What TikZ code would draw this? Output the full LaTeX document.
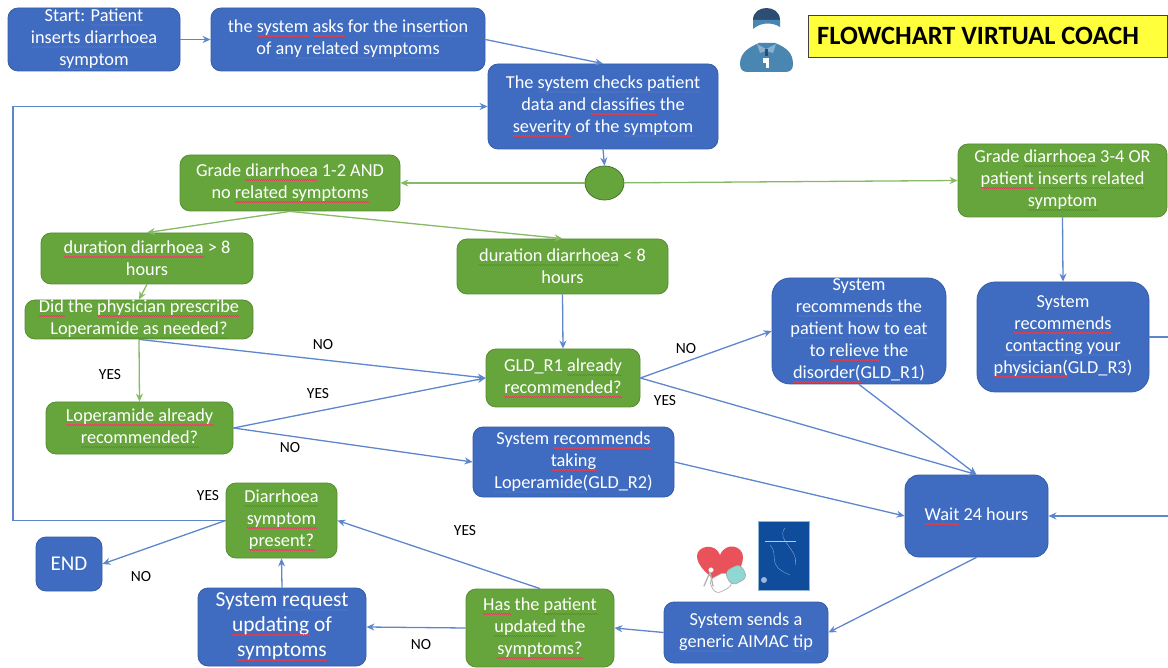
\documentclass[tikz,border=0pt]{standalone}
\usepackage{fontspec}
\setmainfont{Carlito}
\usetikzlibrary{arrows.meta,calc,shapes.geometric}
\definecolor{bfill}{HTML}{3F6CC0}
\definecolor{gfill}{HTML}{66A53C}
\definecolor{bline}{HTML}{5E86CC}
\definecolor{gline}{HTML}{86BA64}
\definecolor{sqred}{HTML}{D8455A}
\definecolor{hatdark}{HTML}{2C4E72}
\definecolor{teal}{HTML}{4A86B2}
\definecolor{bookblue}{HTML}{0F4C9C}
\definecolor{pillteal}{HTML}{8FD8D2}
\definecolor{heartred}{HTML}{E9525A}
\definecolor{titleyellow}{HTML}{FFFF3C}
\newsavebox\sqbox
\newdimen\sqleft
\def\sqfill{\sqleft=\wd\sqbox \loop\ifdim\sqleft>1pt \vrule width1pt height-2.4pt depth3.2pt\vrule width1pt height-3.1pt depth3.9pt\advance\sqleft by -2pt\repeat}
\newcommand\sq[1]{\leavevmode\sbox\sqbox{#1}\usebox\sqbox\llap{\hbox to\wd\sqbox{\color{sqred}\sqfill\hss}}}
\newcommand\mk[7]{\node[#1,minimum width={(#5-#3)*1pt},minimum height={(#6-#4)*1pt}] (#2) at ({(#3+#5)/2},{(#4+#6)/2}) {#7};}
\tikzset{
  base/.style={inner sep=0pt,align=center,text=white,rounded corners=10pt,line width=0.8pt,font=\fontsize{18.3}{22}\selectfont},
  bluebox/.style={base,fill=bfill,draw=bfill!85!black},
  greenbox/.style={base,fill=gfill,draw=gfill!85!black},
  arr/.style={draw=bline,line width=1.3pt,-{Stealth[length=8pt,width=7pt]}},
  garr/.style={draw=gline,line width=1.3pt,-{Stealth[length=8pt,width=7pt]}},
  plainline/.style={draw=bline,line width=1.3pt},
  lab/.style={font=\fontsize{15.5}{17}\selectfont,text=black,inner sep=0pt},
}
\begin{document}
\begin{tikzpicture}[x=1pt,y=-1pt]
\useasboundingbox (0,0) rectangle (1168,668);
% boxes
\mk{bluebox}{start}{8}{8}{180}{71}{Start: \sq{Patient}\\\sq{inserts diarrhoea}\\\sq{symptom}}
\mk{bluebox}{ask}{211}{8}{485}{71}{the \sq{system} \sq{asks} for the \sq{insertion}\\of \sq{any related symptoms}}
\mk{bluebox}{check}{488}{64}{718}{149}{The \sq{system checks patient}\\data and \sq{classifies} the\\\sq{severity} of the \sq{symptom}}
\node[fill=gfill,draw=gfill!70!black,line width=0.8pt,ellipse,minimum width=39pt,minimum height=34pt,inner sep=0pt] (hub) at (604.5,183) {};
\mk{greenbox}{gone}{180}{155}{400}{211}{Grade \sq{diarrhoea} 1-2 AND\\no \sq{related symptoms}}
\mk{greenbox}{gthree}{958}{144}{1167}{217}{Grade \sq{diarrhoea} 3-4 OR\\\sq{patient} \sq{inserts related}\\\sq{symptom}}
\mk{greenbox}{dlong}{41}{233}{253}{284}{\sq{duration diarrhoea} > 8\\hours}
\mk{greenbox}{dshort}{457}{239}{668}{294}{\sq{duration diarrhoea} < 8\\hours}
\mk{greenbox}{phys}{25}{300}{253}{339}{\sq{Did} the \sq{physician prescribe}\\\sq{Loperamide as needed?}}
\mk{greenbox}{lop}{46}{402}{233}{454}{\sq{Loperamide already}\\\sq{recommended?}}
\mk{greenbox}{gld}{486}{349}{640}{407}{GLD\_R1 \sq{already}\\\sq{recommended?}}
\mk{bluebox}{rtwo}{473}{427}{674}{497}{System \sq{recommends}\\\sq{taking}\\\sq{Loperamide(}GLD\_R2)}
\mk{bluebox,rounded corners=18pt}{rone}{772}{278}{946}{384}{System\\\sq{recommends} the\\\sq{patient} \sq{how} to \sq{eat}\\to \sq{relieve} the\\\sq{disorder(}GLD\_R1)}
\mk{bluebox,rounded corners=18pt}{rthree}{977}{282}{1149}{392}{System\\\sq{recommends}\\\sq{contacting your}\\\sq{physician(}GLD\_R3)}
\mk{bluebox,rounded corners=14pt}{wait}{905}{475}{1048}{557}{\sq{Wait} 24 hours}
\mk{bluebox}{tip}{664}{602}{828}{663}{System \sq{sends} a\\\sq{generic} AIMAC \sq{tip}}
\mk{greenbox}{upd}{466}{589}{614}{667}{\sq{Has} the \sq{patient}\\\sq{updated} the\\\sq{symptoms?}}
\mk{bluebox,font=\fontsize{21.4}{25}\selectfont}{req}{198}{588}{366}{666}{System \sq{request}\\\sq{updating} of\\\sq{symptoms}}
\mk{greenbox}{diar}{226}{483}{337}{558}{\sq{Diarrhoea}\\\sq{symptom}\\\sq{present?}}
\mk{bluebox,font=\fontsize{21}{24}\selectfont}{endbox}{36}{537}{102}{591}{END}
% title
\node[fill=titleyellow,draw=black!75,line width=0.9pt,minimum width=359pt,minimum height=42pt,inner sep=0pt] (title) at (987.5,36) {};
\node[anchor=west,inner sep=0pt,text=black,font=\fontsize{26.4}{30}\selectfont\bfseries] (titletext) at (817,36) {FLOWCHART VIRTUAL COACH};
% connectors
\coordinate (loop) at (13,520.5);
\coordinate (stubA) at (1168,337);
\coordinate (stubB) at (1168,516);
\draw[arr] (start) -- (ask);
\draw[arr] (ask.east) -- (check.north);
\draw[arr] (check.south) -- (hub.north);
\draw[garr] (hub) -- (gone.east);
\draw[garr] (hub) -- (gthree.west);
\draw[arr] (gthree.south) -- (rthree.north);
\draw[garr] (gone.south) -- (dlong.north);
\draw[garr] (gone.south) -- (dshort.north);
\draw[garr] (dlong.south) -- (phys.north);
\draw[garr] (phys.south) -- (lop.north);
\draw[arr] (dshort.south) -- (gld.north);
\draw[arr] (phys.south) -- (gld.west);
\draw[arr] (lop.east) -- (gld.west);
\draw[arr] (lop.east) -- (rtwo.west);
\draw[arr] (gld.east) -- (rone.west);
\draw[arr] (gld.east) -- (wait.north);
\draw[arr] (rone.south) -- (wait.north);
\draw[arr] (rtwo.east) -- (wait.west);
\draw[plainline] (rthree.east) -- (stubA);
\draw[arr] (stubB) -- (wait.east);
\draw[arr] (wait.south) -- (tip.east);
\draw[arr] (tip.west) -- (upd.east);
\draw[arr] (upd.west) -- (req.east);
\draw[arr] (req.north) -- (diar.south);
\draw[arr] (upd.north) -- (diar.east);
\draw[arr] (diar.west) -- (endbox.east);
\draw[arr] (diar.west) -- (loop) |- (check.west);
% labels
\node[lab] (l1) at (323,345) {NO};
\node[lab] (l2) at (110,375) {YES};
\node[lab] (l3) at (318,394) {YES};
\node[lab] (l4) at (290,448) {NO};
\node[lab] (l5) at (686,349) {NO};
\node[lab] (l6) at (665,401) {YES};
\node[lab] (l7) at (208,496) {YES};
\node[lab] (l8) at (141,577) {NO};
\node[lab] (l9) at (465,531) {YES};
\node[lab] (l10) at (421,645) {NO};
% coach icon
\fill[hatdark] (753,20) .. controls (753,4) and (780,4) .. (780,20) -- cycle;
\fill[teal] (753,20) -- (780,20) -- (780,27) .. controls (772,22) and (761,22) .. (753,29) -- cycle;
\fill[teal] (740,64) .. controls (740,52) and (750,47) .. (759,43) -- (775,43) .. controls (785,47) and (793,52) .. (793,64) .. controls (793,70) and (790,72) .. (785,72) -- (748,72) .. controls (743,72) and (740,70) .. (740,64) -- cycle;
\fill[teal!65!white] (757,44) -- (766,49) -- (776,44) -- (773,53) -- (766,51) -- (760,53) -- cycle;
\fill[white] (763,58) rectangle (769,63);
\fill[white] (766,62) rectangle (769,68);
\fill[hatdark] (765,49) rectangle (768,56);
% heart and pill
\fill[heartred] (722,586) .. controls (708,575) and (697,566) .. (697,556) .. controls (697,546) and (715,542) .. (720,555) .. controls (726,541) and (743,546) .. (743,557) .. controls (743,570) and (732,578) .. (722,586) -- cycle;
\begin{scope}[rotate around={28:(728,579)}]
\fill[white,draw=black!35,line width=0.6pt,rounded corners=6pt] (710,571) rectangle (730,587);
\fill[pillteal,draw=black!35,line width=0.6pt,rounded corners=6pt] (728,571) rectangle (746,587);
\end{scope}
\draw[black!30,line width=1.3pt,line cap=round] (704,586) -- (710,572) -- (713,586);
\fill[white,draw=black!30,line width=0.4pt] (711,570) circle (2.5pt);
% book
\fill[bookblue,draw=teal!60!white,line width=0.6pt] (758,521) rectangle (809,590);
\draw[white!60!bookblue,line width=0.3pt] (770,545) .. controls (780,555) and (765,565) .. (790,575);
\draw[white!60!bookblue,line width=0.3pt] (785,528) .. controls (775,540) and (800,550) .. (795,565);
\draw[white!70!bookblue,line width=0.8pt] (765,541) -- (796,541);
\fill[white!60!bookblue] (764,580) circle (3pt);
\end{tikzpicture}
\end{document}
